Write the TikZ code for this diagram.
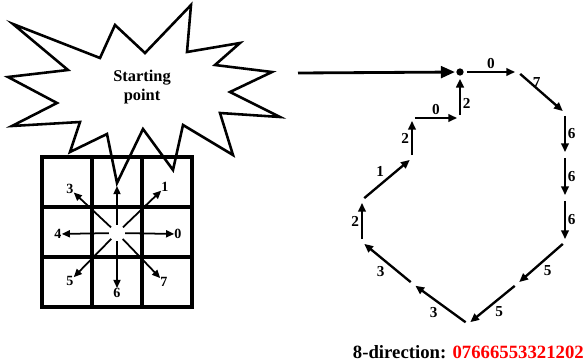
\documentclass[tikz,border=0pt]{standalone}
\usepackage{fontspec}
\setmainfont{Liberation Serif}
\usepackage{xcolor}
\usetikzlibrary{arrows.meta,positioning,calc}

\begin{document}
\begin{tikzpicture}[
    x=0.03cm, y=-0.03cm,
    arrow/.style={-{Triangle[length=7.5pt,width=6.5pt]}, line width=2pt},
    link/.style={arrow, shorten <=2.5pt, shorten >=2.5pt},
    bigarrow/.style={-{Triangle[length=12pt,width=10pt]}, line width=2.4pt},
    ray/.style={-{Triangle[length=7pt,width=6pt]}, line width=1.5pt, shorten <=7pt},
    lbl/.style={font=\fontsize{13}{15}\selectfont\bfseries, inner sep=1.5pt},
    dirlbl/.style={font=\fontsize{12}{14}\selectfont\bfseries, inner sep=0pt},
    cell/.style={line width=2.6pt},
    burst/.style={line width=2.2pt, line join=miter}
]
    \useasboundingbox (0,0) rectangle (584,364);

    % Starburst
    \draw[burst] (13,24) -- (100,58) -- (115,25) -- (145,53) -- (191,5) -- (187,52)
        -- (240,43) -- (215,65) -- (272,72) -- (230,92) -- (280,117) -- (220,113)
        -- (233,155) -- (183,125) -- (173,170) -- (143,129) -- (117,183) -- (107,134)
        -- (70,152) -- (80,122) -- (12,126) -- (57,103) -- (8,77) -- (68,70) -- cycle;
    \node[font=\fontsize{14}{16}\selectfont\bfseries, align=center] (start) at (142,87) {Starting\\point};

    % 3x3 neighbourhood
    \draw[cell] (42,157) rectangle (192,307);
    \draw[cell] (92,157) -- (92,307);
    \draw[cell] (142,157) -- (142,307);
    \draw[cell] (42,207) -- (192,207);
    \draw[cell] (42,257) -- (192,257);

    % Directions
    \coordinate (ctr) at (117,233);
    \coordinate (up) at (117,186);
    \node[dirlbl] (d0) at (178,234) {0};
    \node[dirlbl] (d1) at (165,187) {1};
    \node[dirlbl] (d3) at (70,189) {3};
    \node[dirlbl] (d4) at (58,234) {4};
    \node[dirlbl] (d5) at (70,281) {5};
    \node[dirlbl] (d6) at (117,293) {6};
    \node[dirlbl] (d7) at (164,282) {7};
    \draw[ray] (ctr) -- (d0);
    \draw[ray] (ctr) -- (d1);
    \draw[ray] (ctr) -- (up);
    \draw[ray] (ctr) -- (d3);
    \draw[ray] (ctr) -- (d4);
    \draw[ray] (ctr) -- (d5);
    \draw[ray] (ctr) -- (d6);
    \draw[ray] (ctr) -- (d7);

    % Chain
    \node[circle, fill, inner sep=2.2pt] (p0) at (460,72) {};
    \coordinate (p1) at (518,72);
    \coordinate (p2) at (565,113);
    \coordinate (p3) at (565,155);
    \coordinate (p4) at (565,198);
    \coordinate (p5) at (565,242);
    \coordinate (p6) at (517,284);
    \coordinate (p7) at (468,324);
    \coordinate (p8) at (413,284);
    \coordinate (p9) at (362,242);
    \coordinate (p10) at (362,200);
    \coordinate (p11) at (412,158);
    \coordinate (p12) at (412,118);
    \coordinate (p13) at (460,118);
    \coordinate (src) at (298,73);

    \draw[bigarrow, shorten >=1pt] (src) -- (p0);
    \draw[link] (p0) -- node[lbl, above] {0} (p1);
    \draw[link] (p1) -- node[lbl, pos=0.4, above, inner sep=0pt] {7} (p2);
    \draw[link] (p2) -- node[lbl, right] {6} (p3);
    \draw[link] (p3) -- node[lbl, right] {6} (p4);
    \draw[link] (p4) -- node[lbl, right] {6} (p5);
    \draw[link] (p5) -- node[lbl, below right] {5} (p6);
    \draw[link] (p6) -- node[lbl, below right] {5} (p7);
    \draw[link] (p7) -- node[lbl, below left] {3} (p8);
    \draw[link] (p8) -- node[lbl, below left] {3} (p9);
    \draw[link] (p9) -- node[lbl, left] {2} (p10);
    \draw[link] (p10) -- node[lbl, above left] {1} (p11);
    \draw[link] (p11) -- node[lbl, left] {2} (p12);
    \draw[link] (p12) -- node[lbl, above] {0} (p13);
    \draw[link] (p13) -- node[lbl, pos=0.35, right] {2} (p0);

    % Code
    \node[font=\fontsize{16}{18}\selectfont\bfseries, anchor=east, inner sep=0pt] (code) at (584,352)
        {8-direction: \textcolor{red}{07666553321202}};
\end{tikzpicture}
\end{document}
